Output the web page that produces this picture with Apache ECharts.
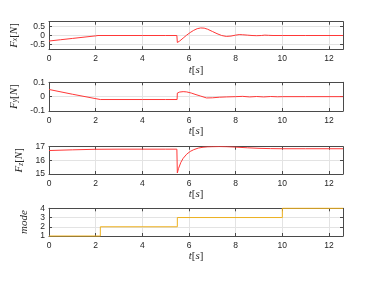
<!DOCTYPE html>
<html><head><meta charset="utf-8">
<script src="https://cdn.jsdelivr.net/npm/echarts@6/dist/echarts.min.js"></script>
<style>html,body{margin:0;padding:0;background:#fff}#c{width:379px;height:285px}</style>
</head><body><div id="c"></div>
<script>
// ---- data ----
const xTicks = [0, 2, 4, 6, 8, 10, 12];
const tMax = 12.6;

const fxTime   = [0, 0.5, 1, 1.5, 2, 2.1, 3, 4, 5, 5.48, 5.5, 5.6, 5.75, 5.9, 6.05, 6.2, 6.35, 6.5, 6.65, 6.8, 7.0, 7.2, 7.4, 7.6, 7.8, 8.0, 8.15, 8.3, 8.5, 8.7, 8.9, 9.1, 9.25, 9.4, 9.6, 10, 11, 12.6];
const fxValues = [-0.3, -0.23, -0.16, -0.09, -0.02, 0, 0, 0, 0, 0, -0.38, -0.3, -0.14, 0.02, 0.16, 0.28, 0.37, 0.41, 0.4, 0.34, 0.22, 0.1, 0.0, -0.05, -0.03, 0.02, 0.05, 0.04, 0.02, 0.0, -0.01, 0.0, 0.02, 0.01, 0.0, 0, 0, 0];

const fyTime   = [0, 1, 2.2, 3, 4, 5, 5.49, 5.5, 5.6, 5.75, 5.9, 6.1, 6.3, 6.5, 6.75, 7.0, 7.3, 7.6, 8.0, 8.3, 8.6, 8.9, 9.2, 9.5, 9.8, 10, 11, 12.6];
const fyValues = [0.05, 0.017, -0.02, -0.02, -0.02, -0.02, -0.02, 0.025, 0.032, 0.035, 0.033, 0.025, 0.014, 0.004, -0.009, -0.008, -0.004, -0.002, 0.0, 0.002, -0.002, 0.001, -0.002, 0.001, -0.001, 0, 0, 0];

const fzTime   = [0, 1, 2, 3, 4, 5, 5.48, 5.5, 5.55, 5.65, 5.75, 5.9, 6.05, 6.2, 6.4, 6.6, 6.8, 7.0, 7.3, 7.6, 8.0, 8.5, 9.0, 9.5, 10, 11, 12.6];
const fzValues = [16.72, 16.77, 16.81, 16.82, 16.82, 16.82, 16.82, 15.08, 15.4, 15.85, 16.15, 16.45, 16.65, 16.78, 16.9, 16.96, 16.99, 17.0, 17.01, 17.0, 16.97, 16.92, 16.88, 16.86, 16.85, 16.85, 16.85];

const modeSwitchTimes = [0, 2.2, 5.5, 10];
const modeValues      = [1, 2, 3, 4];

const fxTicks = [-0.5, 0, 0.5];
const fyTicks = [-0.1, 0, 0.1];
const fzTicks = [15, 16, 17];
const modeTicks = [1, 2, 3, 4];

// ---- build ----
function pairs(ts, vs) { return ts.map((t, i) => [t, vs[i]]); }
function stepPairs(ts, vs, end) {
  const out = [];
  for (let i = 0; i < ts.length; i++) {
    if (i > 0) out.push([ts[i], vs[i - 1]]);
    out.push([ts[i], vs[i]]);
  }
  out.push([end, vs[vs.length - 1]]);
  return out;
}

const serif = '"Liberation Serif", "DejaVu Serif", serif';
const sans = '"Liberation Sans", Arial, sans-serif';
const rich = {
  i: { fontFamily: serif, fontStyle: 'italic', fontSize: 11, color: '#262626' },
  u: { fontFamily: serif, fontSize: 11, color: '#262626' },
  s: { fontFamily: serif, fontStyle: 'italic', fontSize: 7.5, color: '#262626', verticalAlign: 'bottom', lineHeight: 8 }
};

const panels = [
  { top: 21.7, height: 27.6, min: -0.75, max: 0.75, ticks: fxTicks, name: '{i|F}{s|x}{u|[}{i|N}{u|]}', gap: 22, data: pairs(fxTime, fxValues), color: '#ff3838', fmt: v => v === 0 ? '0' : String(v) },
  { top: 82.3, height: 28.7, min: -0.1, max: 0.1, ticks: fyTicks, name: '{i|F}{s|y}{u|[}{i|N}{u|]}', gap: 22, data: pairs(fyTime, fyValues), color: '#ff3838', fmt: v => v === 0 ? '0' : String(v) },
  { top: 146.7, height: 27.3, min: 15, max: 17, ticks: fzTicks, name: '{i|F}{s|z}{u|[}{i|N}{u|]}', gap: 21, data: pairs(fzTime, fzValues), color: '#ff3838', fmt: v => String(v) },
  { top: 208.3, height: 27.7, min: 1, max: 4, ticks: modeTicks, name: '{i|mode}', gap: 11, data: stepPairs(modeSwitchTimes, modeValues, tMax), color: '#EDB120', fmt: v => String(v), noClip: true }
];

const axisColor = '#4a4a4a';
const grid = [], xAxis = [], yAxis = [], series = [];
panels.forEach((p, k) => {
  grid.push({ left: 49, right: 36, top: p.top, height: p.height, containLabel: false });
  const xBase = {
    gridIndex: k, type: 'value', min: 0, max: tMax,
    axisLine: { show: true, onZero: false, lineStyle: { color: axisColor, width: 1 } },
    axisTick: { show: true, inside: true, length: 3, customValues: xTicks, lineStyle: { color: axisColor } },
  };
  xAxis.push(Object.assign({}, xBase, {
    position: 'bottom',
    axisLabel: { show: true, customValues: xTicks, fontFamily: sans, fontSize: 8.5, color: '#262626', margin: 5 },
    splitLine: { show: true, lineStyle: { color: '#e3e3e3', width: 1 } },
    name: '{i|t}{u|[}{i|s}{u|]}', nameLocation: 'middle', nameGap: 15,
    nameTextStyle: { rich: rich }
  }));
  xAxis.push(Object.assign({}, xBase, {
    position: 'top', axisLabel: { show: false }, splitLine: { show: false }
  }));
  const yBase = {
    gridIndex: k, type: 'value', min: p.min, max: p.max,
    axisLine: { show: true, onZero: false, lineStyle: { color: axisColor, width: 1 } },
    axisTick: { show: true, inside: true, length: 3, customValues: p.ticks, lineStyle: { color: axisColor } },
  };
  yAxis.push(Object.assign({}, yBase, {
    position: 'left',
    axisLabel: { show: true, customValues: p.ticks, formatter: p.fmt, fontFamily: sans, fontSize: 8.5, color: '#262626', margin: 4 },
    splitLine: { show: true, lineStyle: { color: '#e3e3e3', width: 1 } },
    name: p.name, nameLocation: 'middle', nameGap: p.gap, nameRotate: 90,
    nameTextStyle: { rich: rich }
  }));
  yAxis.push(Object.assign({}, yBase, {
    position: 'right', axisLabel: { show: false }, splitLine: { show: false }
  }));
  series.push({
    type: 'line', xAxisIndex: 2 * k, yAxisIndex: 2 * k, data: p.data,
    showSymbol: false, symbol: 'none', clip: !p.noClip,
    lineStyle: { color: p.color, width: 1 }, animation: false
  });
});

const chart = echarts.init(document.getElementById('c'), null, { renderer: 'canvas' });
chart.setOption({ animation: false, backgroundColor: '#fff', grid, xAxis, yAxis, series });
</script>
</body></html>
